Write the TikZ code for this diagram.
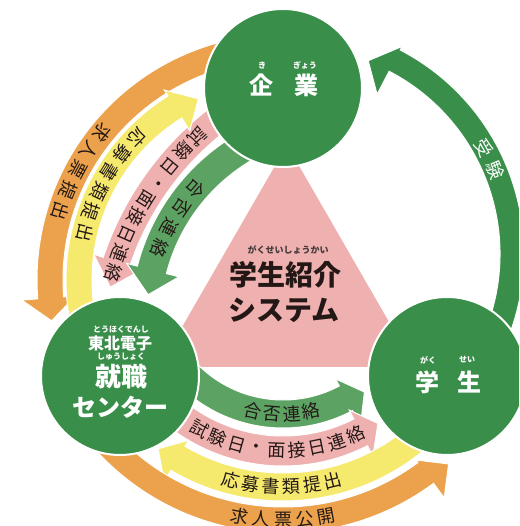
\documentclass[tikz,border=0pt]{standalone}
\usepackage{fontspec}
\newfontfamily\jp{Noto Sans CJK JP}
\usetikzlibrary{calc}
\definecolor{cgreen}{RGB}{57,143,74}
\definecolor{lgreen}{RGB}{92,163,99}
\definecolor{cpink}{RGB}{239,176,176}
\definecolor{cyellow}{RGB}{246,234,110}
\definecolor{corange}{RGB}{236,162,76}
\definecolor{txtc}{RGB}{35,24,21}
\definecolor{rubyc}{RGB}{70,60,60}

% #1 centre, #2 colour, #3 mid radius, #4 width, #5 start angle, #6 head base angle,
% #7 tip angle, #8 head outer radius, #9 head inner radius
\newcommand{\arcband}[9]{%
  \pgfmathsetmacro\bRo{#3+#4/2}%
  \pgfmathsetmacro\bRi{#3-#4/2}%
  \pgfmathsetmacro\bRt{(#8+#9)/2}%
  \filldraw[fill=#2, band] ($(#1)+(#5:\bRo pt)$) arc[start angle=#5, end angle=#6, radius=\bRo pt]
    -- ($(#1)+(#6:#8pt)$) -- ($(#1)+(#7:\bRt pt)$) -- ($(#1)+(#6:#9pt)$)
    -- ($(#1)+(#6:\bRi pt)$) arc[start angle=#6, end angle=#5, radius=\bRi pt] -- cycle;
}
% #1 centre, #2 radius, #3 first angle, #4 step, #5 rotation offset, #6 style, #7 chars, #8 name prefix
\newcommand{\arctext}[8]{%
  \foreach \achar [count=\aci from 0] in {#7} {%
    \pgfmathsetmacro\aang{#3+\aci*(#4)}%
    \node[#6, rotate=\aang+#5] (#8\aci) at ($(#1)+(\aang:#2pt)$) {\achar};
  }%
}

\begin{document}
\begin{tikzpicture}[x=1pt,y=1pt,
  band/.style={draw=white, line width=1pt, line join=miter},
  circ/.style={circle, fill=cgreen, draw=white, line width=2pt, minimum size=158pt, inner sep=0pt},
  lbl/.style={font=\jp\fontsize{18}{18}\selectfont, text=txtc, inner sep=0pt},
  wlbl/.style={font=\jp\fontsize{18}{18}\selectfont, text=white, inner sep=0pt},
  bigw/.style={font=\jp\bfseries\fontsize{24}{24}\selectfont, text=white, inner sep=0pt},
  midw/.style={font=\jp\bfseries\fontsize{16}{16}\selectfont, text=white, inner sep=0pt},
  rubyw/.style={font=\jp\bfseries\fontsize{8}{8}\selectfont, text=white, inner sep=0pt},
  title/.style={font=\jp\bfseries\fontsize{28}{28}\selectfont, text=txtc, inner sep=0pt},
  rubyd/.style={font=\jp\bfseries\fontsize{9}{9}\selectfont, text=rubyc, inner sep=0pt}
]
\useasboundingbox (0,0) rectangle (519,526);
\clip (0,0) rectangle (519,526);

\coordinate (C) at (283,246);
\coordinate (P) at (401,169);
\coordinate (G) at (345.6,206.4);
\coordinate (R) at (294,272);

% central triangle
\fill[cpink] (287,381) -- (159,159) -- (415,159) -- cycle;

% left bands
\arcband{C}{corange}{233}{26}{100}{184.4}{190}{262}{208}
\arcband{P}{cpink}{300}{28}{120}{161.5}{166.5}{324}{274}
\arcband{G}{lgreen}{200}{30}{116}{165.6}{172.8}{226}{172}
\arcband{C}{cyellow}{204}{26}{195}{122}{115}{224}{176}
% bottom bands
\arcband{C}{lgreen}{134}{28}{220}{298}{306}{165}{112}
\arcband{C}{cpink}{171}{30}{220}{297}{303.5}{198}{146}
\arcband{C}{cyellow}{207}{28}{312}{239.5}{233.5}{234}{186}
\arcband{C}{corange}{240}{26}{220}{306.5}{312}{271}{224}
% right band
\arcband{R}{cgreen}{218}{24}{-20}{62.5}{69}{234}{180}

% circles
\node[circ] (kigyo) at (283,438) {};
\node[circ] (shushoku) at (120,150) {};
\node[circ] (gakusei) at (447,150) {};

% circle texts
\node[bigw] (k1) at (261,441) {企};
\node[bigw] (k2) at (306,441) {業};
\node[rubyw] (k1r) at (262,461) {き};
\node[rubyw] (k2r) at (305,461) {ぎょう};

\node[bigw] (g1) at (427,144) {学};
\node[bigw] (g2) at (469,144) {生};
\node[rubyw] (g1r) at (428,166) {がく};
\node[rubyw] (g2r) at (467,166) {せい};

\node[rubyw] (s1r) at (121,196) {とうほくでんし};
\node[midw] (s1) at (120,183) {東北電子};
\node[rubyw] (s2r) at (121,169) {しゅうしょく};
\node[font=\jp\bfseries\fontsize{26}{26}\selectfont, text=white, inner sep=0pt] (s2) at (121,149) {就職};
\node[bigw] (s3) at (120,119) {センター};

% centre text
\node[rubyd] (tr) at (288,276) {がくせいしょうかい};
\node[title] (t1) at (285,251) {学生紹介};
\node[title] (t2) at (284,216) {システム};

% band labels
\arctext{C}{233}{140.8}{5.5}{90}{lbl}{求,人,票,提,出}{lo}
\arctext{C}{204}{135.6}{6.2}{90}{lbl}{応,募,書,類,提,出}{ly}
\arctext{P}{300}{132.8}{3.86}{90}{lbl}{試,験,日,・,面,接,日,連,絡}{lp}
\arctext{G}{199}{139}{6.7}{90}{lbl}{合,否,連,絡}{lg}
\arctext{C}{134}{256.9}{8.4}{90}{lbl}{合,否,連,絡}{bg}
\arctext{C}{171}{240.7}{6.8}{90}{lbl}{試,験,日,・,面,接,日,連,絡}{bp}
\arctext{C}{207}{255.3}{5.7}{90}{lbl}{応,募,書,類,提,出}{by}
\arctext{C}{240}{259.6}{5.2}{90}{lbl}{求,人,票,公,開}{bo}
\arctext{R}{218}{29.2}{-6.7}{270}{wlbl}{受,験}{rj}
\end{tikzpicture}
\end{document}
